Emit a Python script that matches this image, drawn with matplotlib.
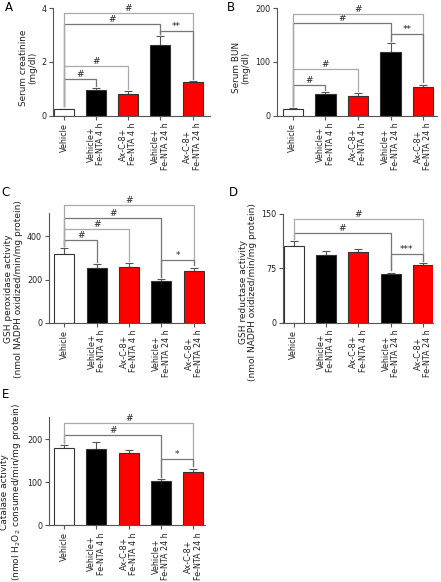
import matplotlib
matplotlib.use("Agg")
import matplotlib.pyplot as plt

# -----------------------------
# Data
# -----------------------------
groups = ["Vehicle", "Vehicle+\nFe-NTA 4 h", "Ax-C-8+\nFe-NTA 4 h",
          "Vehicle+\nFe-NTA 24 h", "Ax-C-8+\nFe-NTA 24 h"]
bar_colors = ["white", "black", "red", "black", "red"]

creat_mean = [0.25, 0.97, 0.82, 2.62, 1.24]
creat_err = [0.02, 0.07, 0.10, 0.33, 0.06]

bun_mean = [13, 40, 36, 118, 54]
bun_err = [2, 4, 6, 17, 4]

gpx_mean = [320, 252, 257, 193, 242]
gpx_err = [25, 18, 18, 10, 14]

gr_mean = [106, 93, 97, 67, 80]
gr_err = [6, 6, 4, 2, 2]

cat_mean = [180, 177, 169, 102, 125]
cat_err = [7, 17, 5, 5, 7]

# brackets: (bar i, bar j, height, label)
creat_sig = [(0, 1, 1.37, "#"), (0, 2, 1.85, "#"), (0, 3, 3.4, "#"),
             (0, 4, 3.83, "#"), (3, 4, 3.16, "**")]
bun_sig = [(0, 1, 57, "#"), (0, 2, 87, "#"), (0, 3, 172, "#"),
           (0, 4, 190, "#"), (3, 4, 152, "**")]
gpx_sig = [(0, 1, 385, "#"), (0, 2, 434, "#"), (0, 3, 486, "#"),
           (0, 4, 544, "#"), (3, 4, 292, "*")]
gr_sig = [(0, 3, 124, "#"), (0, 4, 142.6, "#"), (3, 4, 95, "***")]
cat_sig = [(0, 3, 210, "#"), (0, 4, 238, "#"), (3, 4, 154, "*")]

plt.rcParams["font.family"] = "DejaVu Sans"

fig = plt.figure(figsize=(4.41, 5.82), dpi=100)


def panel(rect, means, errs, sigs, ylim, yticks, ylabel, xlim, letter, lpos,
          label_y=0.5, label_size=6.2):
    ax = fig.add_axes(rect)
    x = range(len(means))
    ax.bar(x, means, width=0.62, color=bar_colors, edgecolor="#333333",
           linewidth=0.8, zorder=2)
    ax.errorbar(x, means, yerr=[[0] * len(errs), errs], fmt="none",
                ecolor="#555555", elinewidth=0.8, capsize=3, capthick=0.8,
                zorder=1)
    tops = [m + e for m, e in zip(means, errs)]
    gap = (ylim[1] - ylim[0]) * 0.02
    for k, (i, j, h, lab) in enumerate(sigs):
        col = "#aaaaaa" if k % 2 else "#777777"
        ax.plot([i, i, j, j], [tops[i] + gap, h, h, tops[j] + gap],
                color=col, lw=0.9, clip_on=False, zorder=3)
        ax.text((i + j) / 2, h, lab, ha="center", va="bottom",
                fontsize=6.5, color="#222222", clip_on=False)
    ax.set_xlim(*xlim)
    ax.set_ylim(*ylim)
    ax.set_yticks(yticks)
    ax.set_xticks(list(x))
    ax.set_xticklabels(groups, rotation=90, fontsize=5.8, color="#222222",
                       linespacing=1.05)
    ax.tick_params(axis="y", labelsize=5.8, length=3, width=0.8, pad=2,
                   colors="#555555", labelcolor="#222222")
    ax.tick_params(axis="x", length=3, width=0.8, pad=2, colors="#555555",
                   labelcolor="#222222")
    ax.set_ylabel(ylabel, fontsize=label_size, color="#222222",
                  linespacing=1.05, labelpad=3)
    ax.yaxis.label.set_y(label_y)
    for s in ["top", "right"]:
        ax.spines[s].set_visible(False)
    for s in ["left", "bottom"]:
        ax.spines[s].set_color("#555555")
        ax.spines[s].set_linewidth(0.8)
    fig.text(lpos[0], lpos[1], letter, fontsize=8.5, ha="left", va="top")
    return ax


panel([0.121, 0.801, 0.355, 0.185], creat_mean, creat_err, creat_sig,
      (0, 4), [0, 2, 4], "Serum creatinine\n(mg/dl)", (-0.33, 4.54),
      "A", (0.012, 0.998), label_y=0.45, label_size=6.4)
panel([0.628, 0.801, 0.363, 0.185], bun_mean, bun_err, bun_sig,
      (0, 200), [0, 100, 200], "Serum BUN\n(mg/dl)", (-0.49, 4.43),
      "B", (0.515, 0.998), label_y=0.45, label_size=6.4)
panel([0.111, 0.4455, 0.354, 0.189], gpx_mean, gpx_err, gpx_sig,
      (0, 510), [0, 200, 400],
      "GSH peroxidase activity\n(nmol NADPH oxidized/min/mg protein)",
      (-0.48, 4.35), "C", (0.004, 0.68), label_y=0.31, label_size=6.5)
panel([0.642, 0.4455, 0.340, 0.187], gr_mean, gr_err, gr_sig,
      (0, 150), [0, 75, 150],
      "GSH reductase activity\n(nmol NADPH oxidized/min/mg protein)",
      (-0.33, 4.31), "D", (0.518, 0.68), label_y=0.28, label_size=6.5)
panel([0.111, 0.0974, 0.354, 0.1856], cat_mean, cat_err, cat_sig,
      (0, 251), [0, 100, 200],
      "Catalase activity\n(nmol H$_2$O$_2$ consumed/min/mg protein)",
      (-0.47, 4.36), "E", (0.004, 0.333), label_y=0.31, label_size=6.5)

fig.savefig("out.png", dpi=100)
